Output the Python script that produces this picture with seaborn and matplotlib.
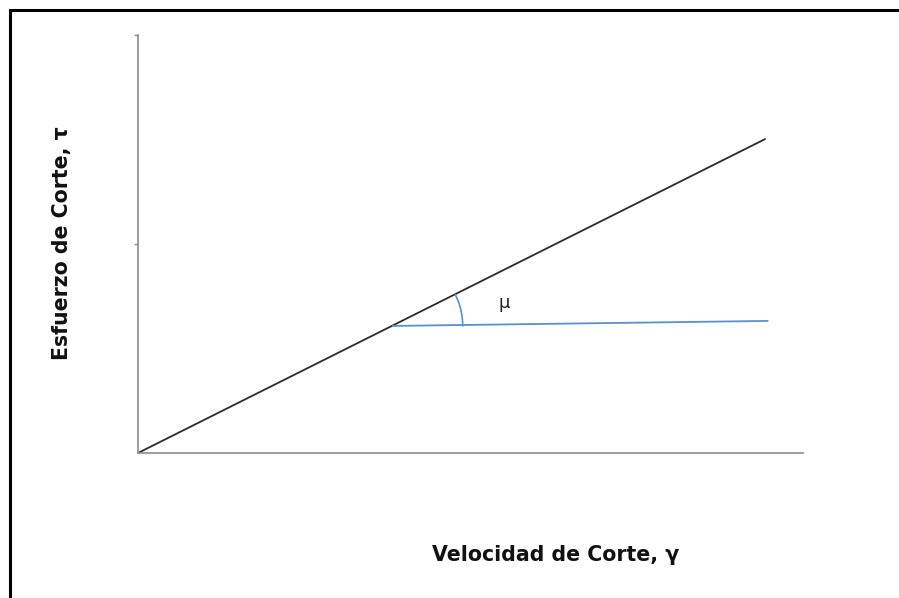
import numpy as np
import pandas as pd
import seaborn as sns
import matplotlib
matplotlib.use("Agg")
import matplotlib.pyplot as plt
from matplotlib.patches import Rectangle

# Data
shear_rate = [0.0, 0.943]          # Velocidad de Corte
shear_stress = [0.0, 1.502]        # Esfuerzo de Corte
ref_x = [0.383, 0.947]             # horizontal reference line
ref_y = [0.608, 0.632]
y_ticks = [1, 2]
x_label = "Velocidad de Corte, γ"
y_label = "Esfuerzo de Corte, τ"
angle_label = "μ"

sns.set_theme(style="white")
plt.rcParams['font.family'] = ['DejaVu Sans']

W, H = 899, 598
fig = plt.figure(figsize=(W / 100, H / 100), dpi=100)
ax = fig.add_axes([138 / W, (H - 453) / H, (803 - 138) / W, (453 - 35) / H])

df_line = pd.DataFrame({"x": shear_rate, "y": shear_stress})
df_ref = pd.DataFrame({"x": ref_x, "y": ref_y})
sns.lineplot(data=df_line, x="x", y="y", ax=ax, color="#2b2b2b", linewidth=1.3)
sns.lineplot(data=df_ref, x="x", y="y", ax=ax, color="#5b8fd0", linewidth=1.3)

ax.set_xlim(0, 1)
ax.set_ylim(0, 2)

# angle arc (drawn in pixel-equivalent space so it is circular)
px_per_x = (803 - 138)
px_per_y = (453 - 35) / 2
slope_px = (shear_stress[1] * px_per_y) / (shear_rate[1] * px_per_x)
theta = np.linspace(0, np.arctan(slope_px), 40)
r = 70
ax.plot(ref_x[0] + r * np.cos(theta) / px_per_x,
        ref_y[0] + r * np.sin(theta) / px_per_y,
        color="#5b8fd0", linewidth=1.2)
ax.text(0.551, 0.72, angle_label, fontsize=13, color="#222222", ha="center", va="center")

for s in ["top", "right"]:
    ax.spines[s].set_visible(False)
for s in ["left", "bottom"]:
    ax.spines[s].set_color("#8c8c8c")
    ax.spines[s].set_linewidth(1.2)

ax.set_xticks([])
ax.set_yticks(y_ticks)
ax.set_yticklabels([])
ax.tick_params(axis="y", left=True, length=3, width=1, color="#8c8c8c")

ax.set_xlabel(x_label, fontsize=14.8, fontweight="bold", color="#111111")
ax.xaxis.set_label_coords((556 - 138) / (803 - 138), -(555 - 453) / (453 - 35))
ax.xaxis.label.set_va("center")
ax.set_ylabel(y_label, fontsize=14.8, fontweight="bold", color="#111111")
ax.yaxis.set_label_coords(-(138 - 62) / (803 - 138), (453 - 243) / (453 - 35))
ax.yaxis.label.set_va("center")

# outer frame
fig.patches.append(Rectangle((10 / W, -0.1), 1.2, (H - 9.5) / H + 0.1,
                             transform=fig.transFigure, fill=False,
                             edgecolor="black", linewidth=2.2))

fig.savefig("out.png", dpi=100)
